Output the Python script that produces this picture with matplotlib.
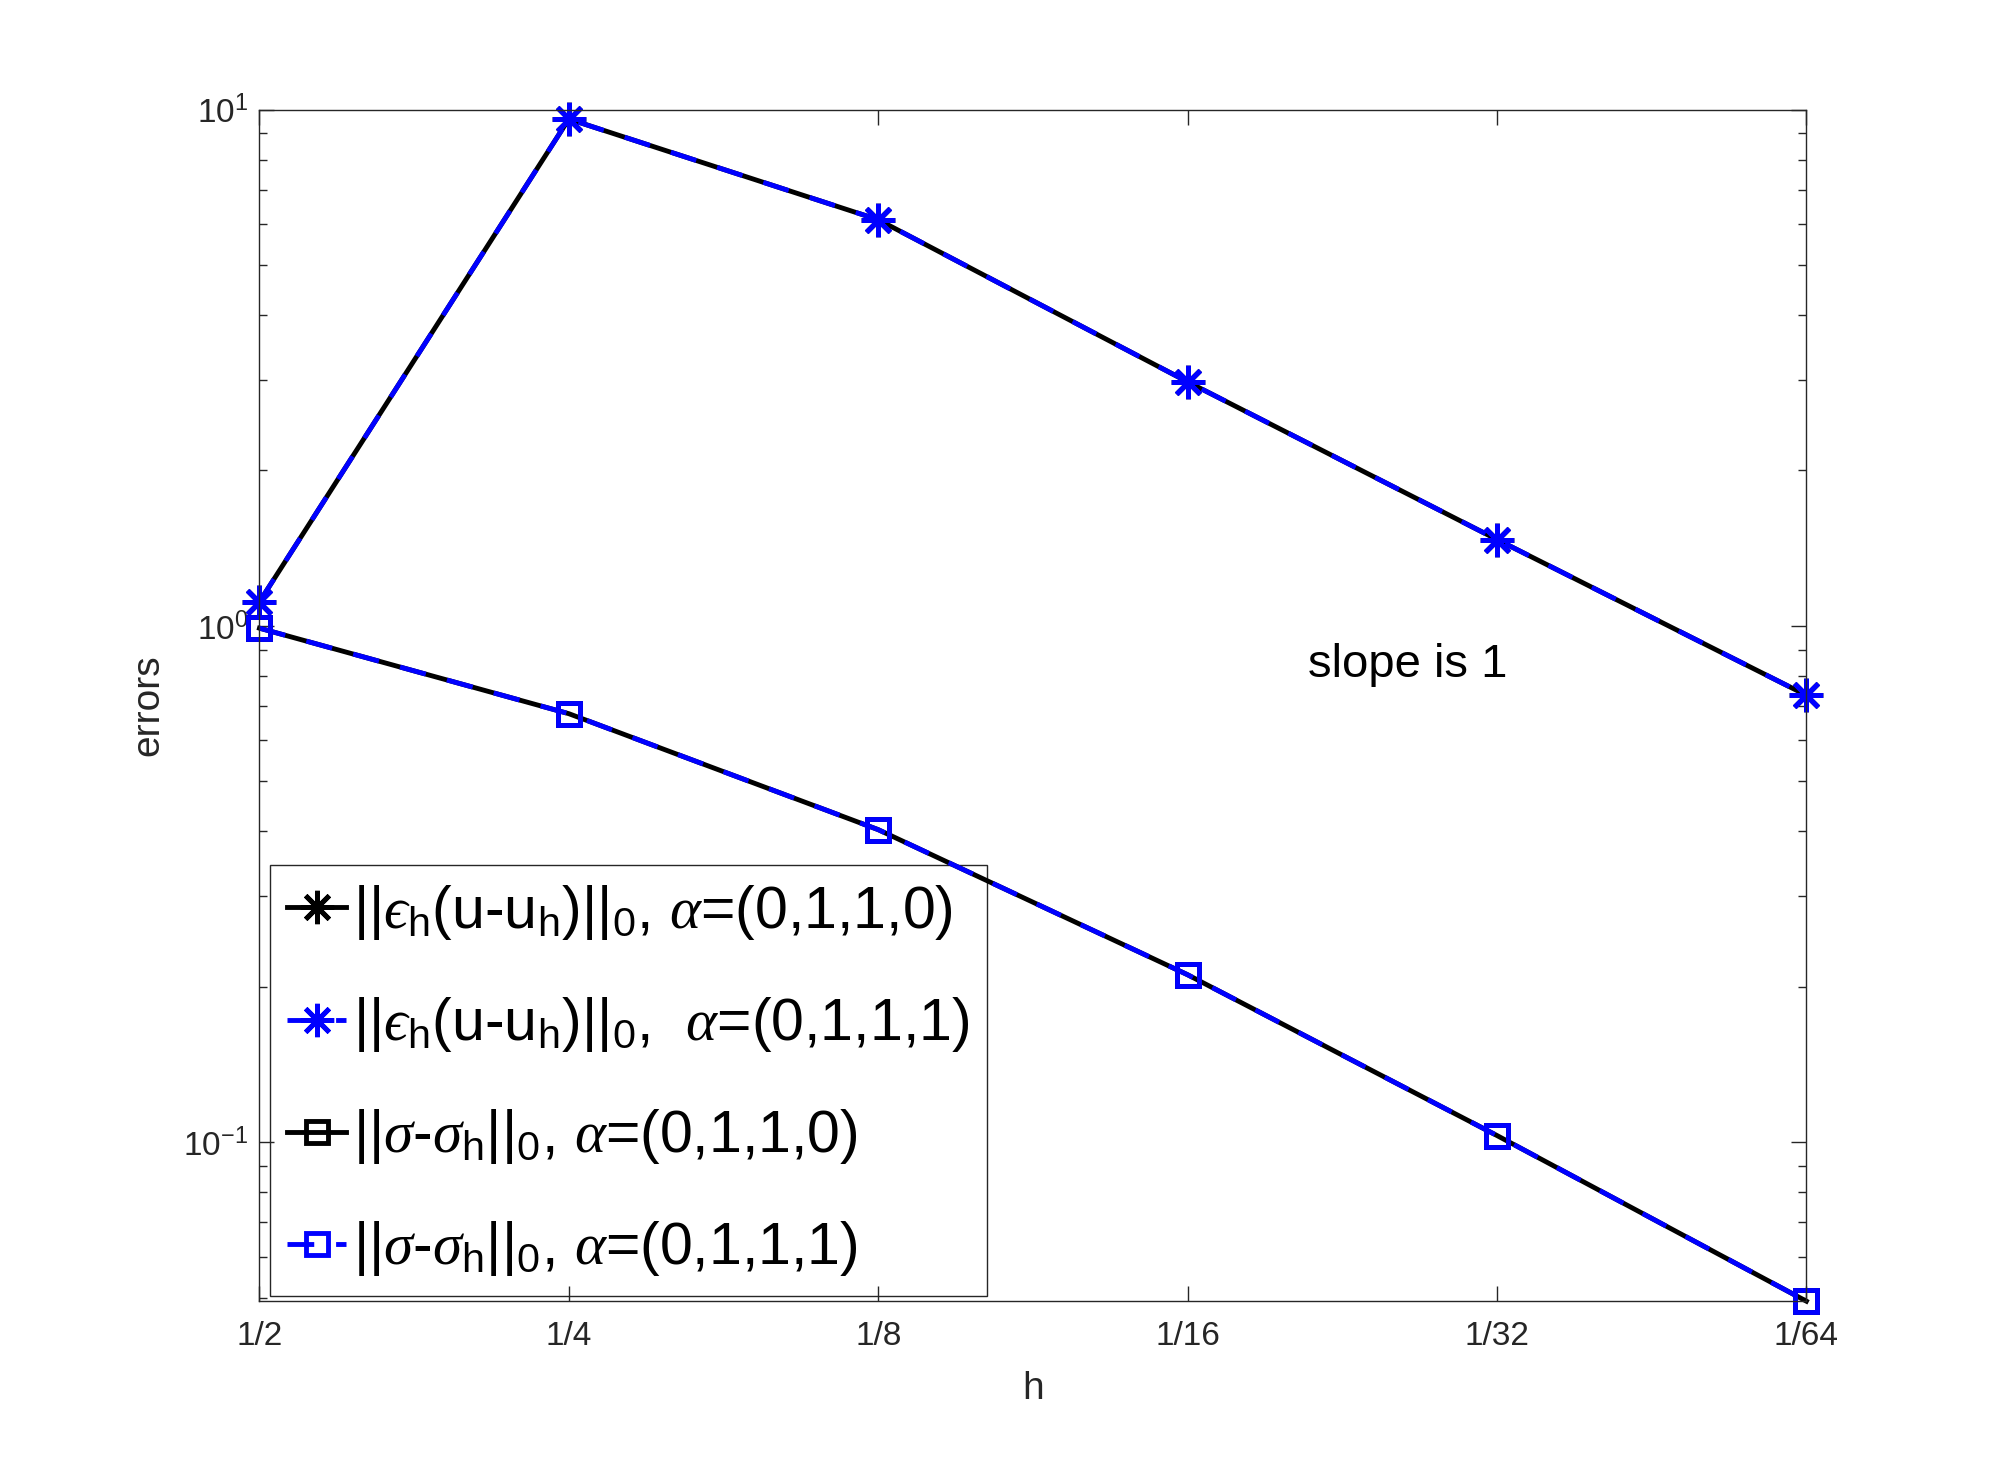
import numpy as np
import matplotlib
matplotlib.use('Agg')
import matplotlib.pyplot as plt

plt.rcParams['font.family'] = ['Liberation Sans', 'DejaVu Sans']
plt.rcParams['mathtext.fontset'] = 'custom'
plt.rcParams['mathtext.rm'] = 'Liberation Sans'
plt.rcParams['mathtext.it'] = 'Liberation Serif:italic'
plt.rcParams['axes.unicode_minus'] = False

h_labels = ['1/2', '1/4', '1/8', '1/16', '1/32', '1/64']
eps_0110 = [1.114, 9.59, 6.12, 2.97, 1.47, 0.734]
eps_0111 = [1.114, 9.59, 6.12, 2.97, 1.47, 0.734]
sig_0110 = [0.99, 0.676, 0.403, 0.211, 0.103, 0.0492]
sig_0111 = [0.99, 0.676, 0.403, 0.211, 0.103, 0.0492]

x = np.arange(1, len(h_labels) + 1)

lab_eps0 = '||$\u03f5_{\\mathrm{h}}$(u-u$_{\\mathrm{h}}$)||$_{\\mathrm{0}}$, $\\alpha$=(0,1,1,0)'
lab_eps1 = '||$\u03f5_{\\mathrm{h}}$(u-u$_{\\mathrm{h}}$)||$_{\\mathrm{0}}$,  $\\alpha$=(0,1,1,1)'
lab_sig0 = r'||$\sigma$-$\sigma_{\mathrm{h}}$||$_{\mathrm{0}}$, $\alpha$=(0,1,1,0)'
lab_sig1 = r'||$\sigma$-$\sigma_{\mathrm{h}}$||$_{\mathrm{0}}$, $\alpha$=(0,1,1,1)'

fig = plt.figure(figsize=(19.96, 14.62), dpi=100)
ax = fig.add_axes([0.13, 0.11, 0.775, 0.815])

star = (8, 2, 0)
ax.plot(x, eps_0110, '-', color='black', lw=3.5, marker=star, ms=24, mew=3.5,
        label=lab_eps0, clip_on=False)
ax.plot(x, eps_0111, '--', color='blue', lw=3.5, dashes=(5.5, 4.5), marker=star,
        ms=24, mew=3.5, label=lab_eps1, clip_on=False)
ax.plot(x, sig_0110, '-', color='black', lw=3.5, marker='s', ms=16, mew=3.5,
        mfc='none', label=lab_sig0, clip_on=False)
ax.plot(x, sig_0111, '--', color='blue', lw=3.5, dashes=(5.5, 4.5), marker='s',
        ms=16, mew=3.5, mfc='none', label=lab_sig1, clip_on=False)

ax.set_yscale('log')
ax.set_xlim(1, 6)
ax.set_ylim(0.0492, 10)
ax.set_xticks(x)
ax.set_xticklabels(h_labels)
ax.minorticks_off()
ax.yaxis.set_minor_locator(matplotlib.ticker.LogLocator(base=10, subs=np.arange(2, 10)))
ax.yaxis.set_minor_formatter(matplotlib.ticker.NullFormatter())

ax.tick_params(which='both', direction='in', top=True, right=True,
               colors='#262626', labelsize=24)
ax.tick_params(which='major', length=11, width=1)
ax.tick_params(which='minor', length=6, width=1)
ax.tick_params(axis='x', pad=14)
ax.tick_params(axis='y', pad=8)
for s in ax.spines.values():
    s.set_color('#262626')
    s.set_linewidth(1)

ax.set_xlabel('h', fontsize=28, color='#262626', labelpad=14)
ax.set_ylabel('errors', fontsize=28, color='#262626', labelpad=12)

ax.text(4.39, 0.84, 'slope is 1', fontsize=34, va='center')

leg = ax.legend(loc='lower left', bbox_to_anchor=(0.0065, 0.0042), borderaxespad=0,
                fontsize=42.5, handlelength=1.0, handletextpad=0.12, labelspacing=0.9,
                borderpad=0.3, fancybox=False, framealpha=1, edgecolor='#262626')
leg.get_frame().set_linewidth(1)
leg.set_zorder(1)

fig.savefig('out.png', dpi=100)
